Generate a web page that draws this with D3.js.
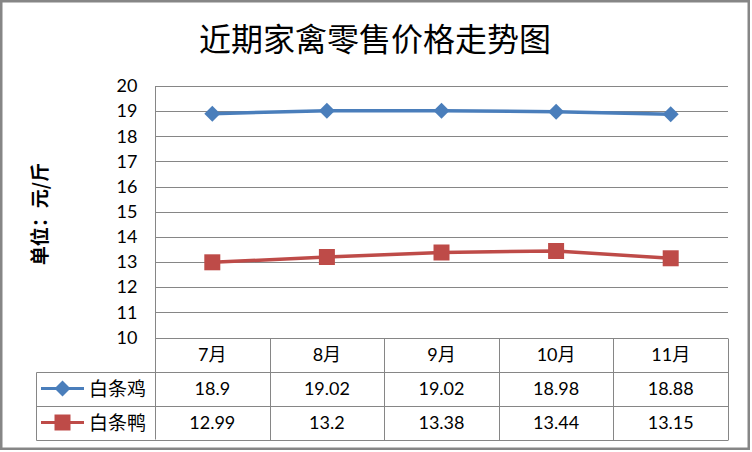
<!DOCTYPE html>
<html><head><meta charset="utf-8">
<script src="https://cdn.jsdelivr.net/npm/d3@7/dist/d3.min.js"></script>
<style>body{margin:0;background:#fff}svg{display:block}</style>
</head><body>
<svg id="c" width="752" height="452"></svg>
<script>
const categories = ["7月","8月","9月","10月","11月"];
const seriesNames = ["白条鸡","白条鸭"];
const chicken = [18.9,19.02,19.02,18.98,18.88];
const duck = [12.99,13.2,13.38,13.44,13.15];
const yTicks = [10,11,12,13,14,15,16,17,18,19,20];
const title = "近期家禽零售价格走势图";
const yLabel = "单位：元/斤";

const series = [
  {name: seriesNames[0], values: chicken, color: "#4A7EBB", marker: "diamond"},
  {name: seriesNames[1], values: duck, color: "#BE4B48", marker: "square"}
];

const svg = d3.select("#c");
const grid = "#868686";
const font = "Lato, 'Noto Sans CJK SC', sans-serif";
const L = 155, R = 728, T = 86, B = 337.5;
const rowH = 34;

svg.append("rect").attr("x",1.25).attr("y",1.25).attr("width",747.5).attr("height",447.5)
  .attr("fill","#fff").attr("stroke",grid).attr("stroke-width",2.5);

const x = d3.scaleBand().domain(categories).range([L,R]);
const y = d3.scaleLinear().domain([10,20]).range([B,T]);

// gridlines
svg.append("g").selectAll("line").data(yTicks).join("line")
  .attr("x1",L).attr("x2",R).attr("y1",d=>Math.round(y(d))+0.5).attr("y2",d=>Math.round(y(d))+0.5)
  .attr("stroke",grid).attr("stroke-width",1);

// y axis
const yAxis = d3.axisLeft(y).tickValues(yTicks).tickSize(0).tickPadding(18);
const ga = svg.append("g").attr("transform",`translate(${L+0.5},0)`).call(yAxis);
ga.select(".domain").attr("stroke",grid).attr("d",`M0,${T}V${B+3*rowH}`);
ga.selectAll("text").attr("font-family",font).attr("font-size",18).attr("fill","#000");

// title
svg.append("text").attr("x",375).attr("y",51).attr("text-anchor","middle")
  .attr("font-family","'Noto Sans CJK SC', sans-serif").attr("font-size",32).attr("fill","#000")
  .text(title);

// y label
svg.append("text").attr("transform","translate(47,214) rotate(-90)").attr("text-anchor","middle")
  .attr("font-family","'Noto Sans CJK SC', sans-serif").attr("font-size",19).attr("font-weight","bold").attr("fill","#000")
  .text(yLabel);

// data table
const tb = svg.append("g");
const hline = (x1,x2,yy)=>tb.append("line").attr("x1",x1).attr("x2",x2).attr("y1",yy).attr("y2",yy).attr("stroke",grid);
const vline = (xx,y1,y2)=>tb.append("line").attr("x1",xx).attr("x2",xx).attr("y1",y1).attr("y2",y2).attr("stroke",grid);
const LL = 36.5;
hline(L, R, Math.round(B)+0.5);
hline(LL, R, Math.round(B+rowH)+0.5);
hline(LL, R, Math.round(B+2*rowH)+0.5);
hline(LL, R, Math.round(B+3*rowH)+0.5);
vline(LL, Math.round(B+rowH)+0.5, Math.round(B+3*rowH)+0.5);
categories.forEach((c,i)=>{ vline(Math.round(x(c)+x.bandwidth())+0.5, Math.round(B)+0.5, Math.round(B+3*rowH)+0.5); });

tb.selectAll("text.h").data(categories).join("text").attr("class","h")
  .attr("x",d=>x(d)+x.bandwidth()/2).attr("y",B+rowH/2+6).attr("text-anchor","middle")
  .attr("font-family",font).attr("font-size",18).attr("fill","#000").text(d=>d);

const sym = {diamond: d3.symbol().type(d3.symbolDiamond2 || d3.symbolDiamond).size(130),
             square: d3.symbol().type(d3.symbolSquare).size(256)};
function drawMarker(g, s, cx, cy){
  if(s.marker==="diamond"){
    g.append("path").attr("d",d3.symbol().type(d3.symbolSquare).size(128)())
      .attr("transform",`translate(${cx},${cy}) rotate(45)`).attr("fill",s.color);
  } else {
    g.append("path").attr("d",sym.square()).attr("transform",`translate(${cx},${cy})`).attr("fill",s.color);
  }
}

series.forEach((s,si)=>{
  const ry = B+rowH*(si+1)+rowH/2;
  tb.append("line").attr("x1",41).attr("x2",84).attr("y1",ry).attr("y2",ry).attr("stroke",s.color).attr("stroke-width",3);
  drawMarker(tb, s, 62.5, ry);
  tb.append("text").attr("x",89).attr("y",ry+7).attr("font-family","'Noto Sans CJK SC', sans-serif").attr("font-size",19).attr("fill","#000").text(s.name);
  tb.selectAll("text.v"+si).data(s.values).join("text").attr("class","v"+si)
    .attr("x",(d,i)=>x(categories[i])+x.bandwidth()/2).attr("y",ry+6).attr("text-anchor","middle")
    .attr("font-family",font).attr("font-size",18).attr("fill","#000").text(d=>d);
});

// lines & markers
const line = d3.line().x((d,i)=>x(categories[i])+x.bandwidth()/2).y(d=>y(d));
series.forEach(s=>{
  svg.append("path").datum(s.values).attr("d",line).attr("fill","none").attr("stroke",s.color).attr("stroke-width",3.5).attr("stroke-linejoin","round");
  const g = svg.append("g");
  s.values.forEach((v,i)=>drawMarker(g, s, x(categories[i])+x.bandwidth()/2, y(v)));
});
</script>
</body></html>
